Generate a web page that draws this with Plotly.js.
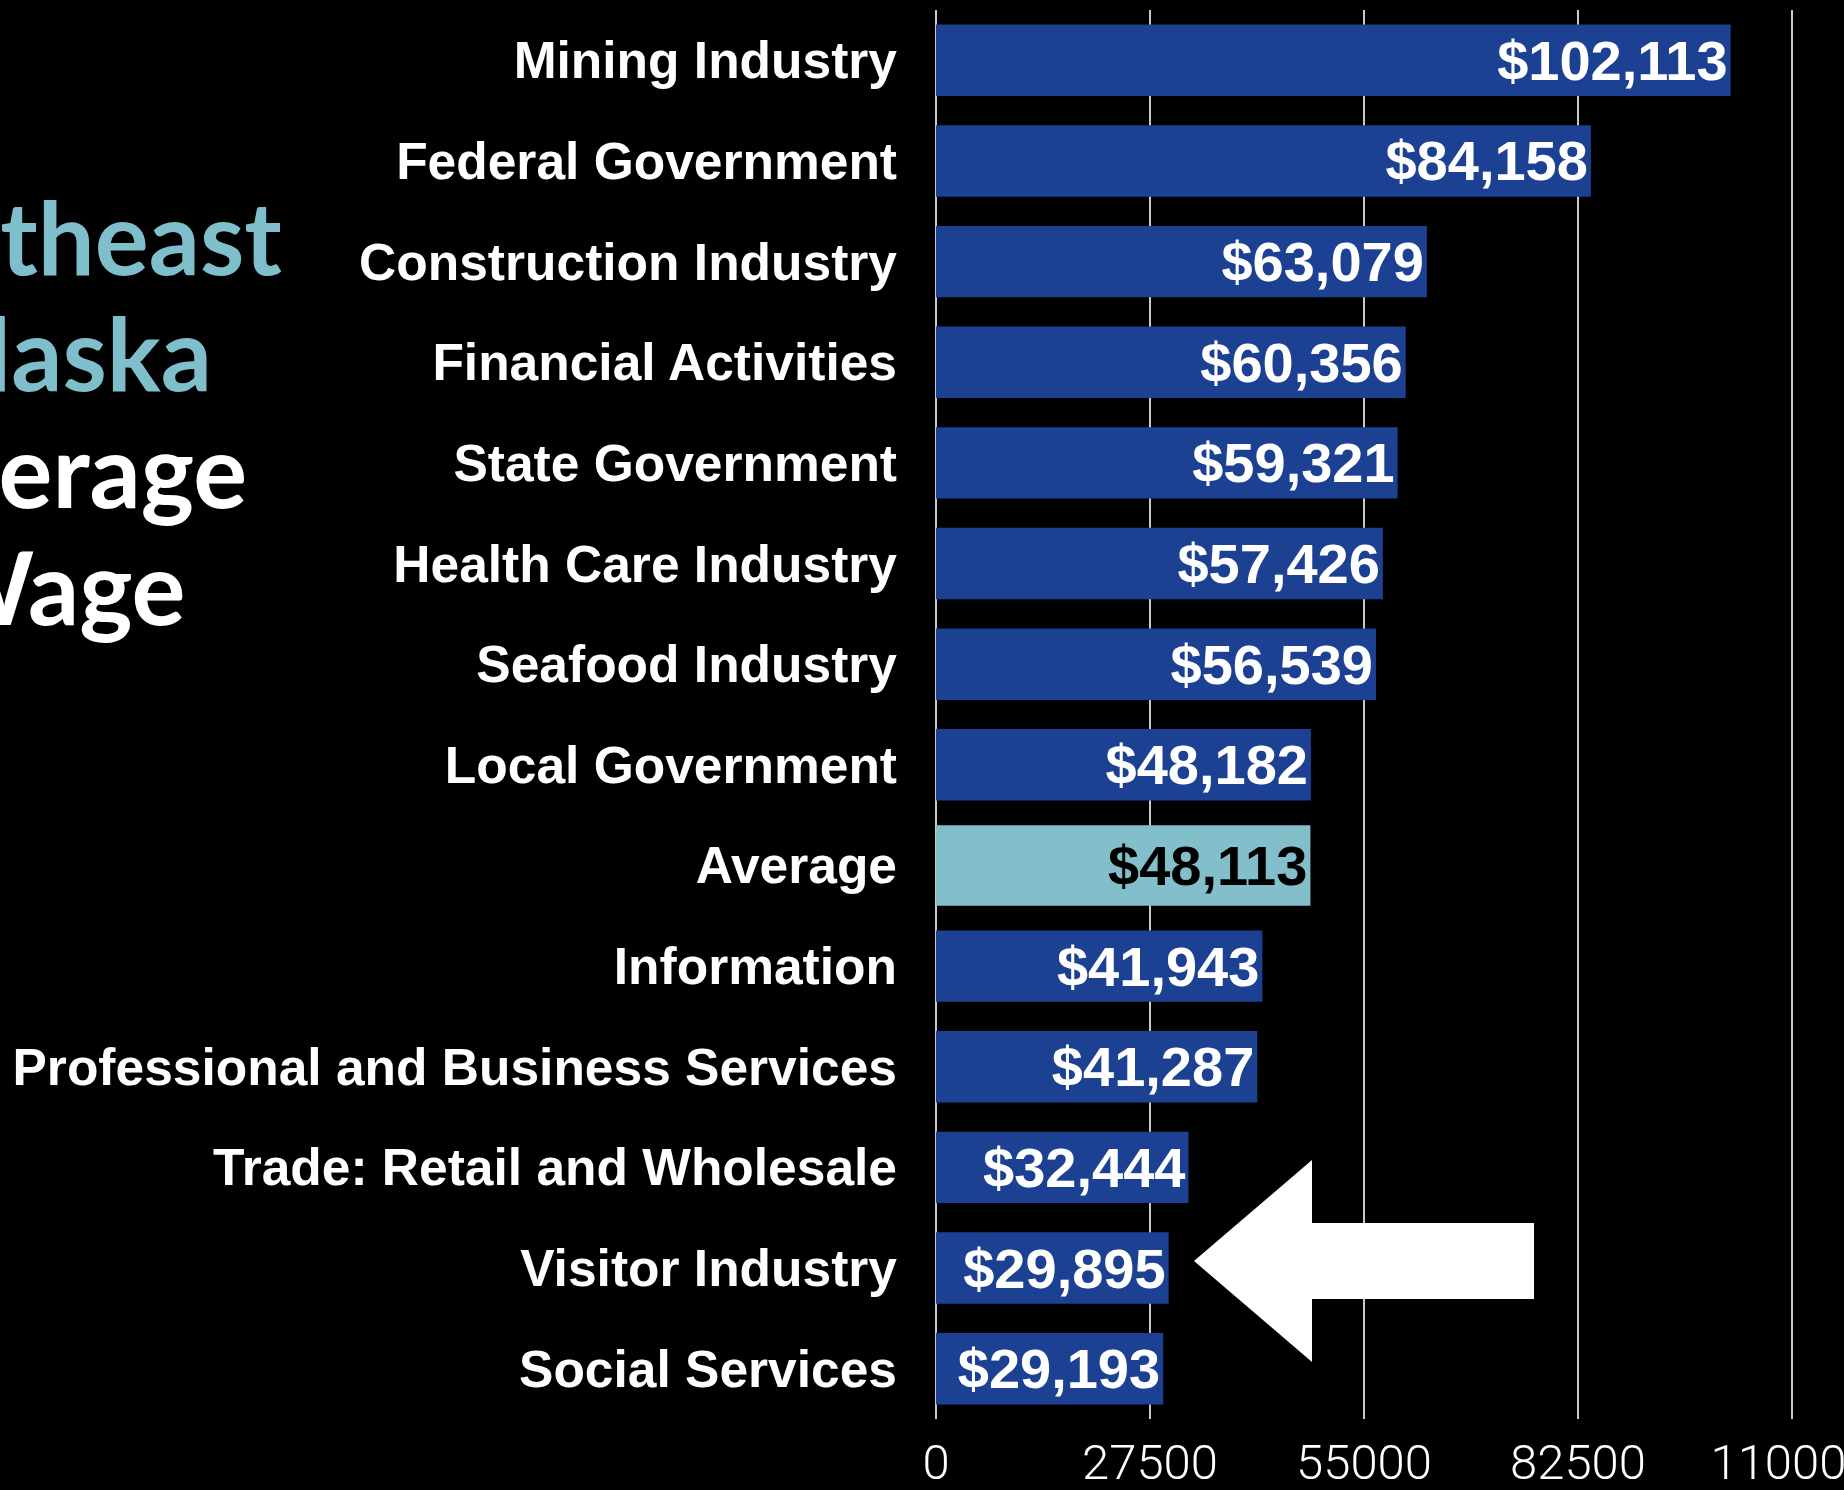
<!DOCTYPE html>
<html>
<head>
<meta charset="utf-8">
<script src="https://cdn.plot.ly/plotly-3.0.1.min.js"></script>
<style>html,body{margin:0;padding:0;background:#000;}#chart{width:1844px;height:1490px;}</style>
</head>
<body>
<div id="chart"></div>
<script>
// ---- data ----
const categories = [
  "Mining Industry", "Federal Government", "Construction Industry", "Financial Activities",
  "State Government", "Health Care Industry", "Seafood Industry", "Local Government",
  "Average", "Information", "Professional and Business Services",
  "Trade: Retail and Wholesale", "Visitor Industry", "Social Services"
];
const wages = [102113, 84158, 63079, 60356, 59321, 57426, 56539, 48182, 48113, 41943, 41287, 32444, 29895, 29193];
const highlight = "Average";
const titleLines = ["Southeast", "Alaska", "Average", "Wage"];
const xTicks = [0, 27500, 55000, 82500, 110000];

// ---- page geometry ----
const W = 1844, H = 1490;
const M = {l: 936, r: 0, t: 10, b: 71};
const plotW = W - M.l - M.r, plotH = H - M.t - M.b;
const px2x = p => (p - M.l) / plotW;
const px2y = p => 1 - (p - M.t) / plotH;

const darkBlue = "#1c4192", lightBlue = "#82bfca", teal = "#7fbfcb";

const trace = {
  type: "bar",
  orientation: "h",
  y: categories,
  x: wages,
  width: categories.map(c => c === highlight ? 0.8 : 0.71),
  marker: {color: categories.map(c => c === highlight ? lightBlue : darkBlue), line: {width: 0}},
  texttemplate: "$%{x:,}",
  textposition: "inside",
  insidetextanchor: "end",
  constraintext: "none",
  textangle: 0,
  textfont: {family: "Liberation Sans, Arial, sans-serif", size: 56, weight: 700,
             color: categories.map(c => c === highlight ? "#000" : "#fff")},
  hoverinfo: "skip"
};

const titleColors = [teal, teal, "#fff", "#fff"];
const titleRight = [284, 214, 249, 188];
const titleMid = [236, 352, 469, 586];
const annotations = titleLines.map((t, i) => ({
  text: t, xref: "paper", yref: "paper",
  x: px2x(titleRight[i]), y: px2y(titleMid[i]),
  xanchor: "right", yanchor: "middle", showarrow: false,
  font: {family: "Lato, sans-serif", size: 101, weight: 700, color: titleColors[i]}
}));

// arrow pointing at the visitor industry bar
const pts = [[1194,1261],[1312,1160],[1312,1223],[1534,1223],[1534,1299],[1312,1299],[1312,1362]];
const path = "M" + pts.map(p => px2x(p[0]).toFixed(5) + "," + px2y(p[1]).toFixed(5)).join(" L") + " Z";

const layout = {
  width: W, height: H,
  margin: M,
  paper_bgcolor: "#000", plot_bgcolor: "#000",
  showlegend: false,
  xaxis: {
    range: [0, 110000 * plotW / 856],
    tickvals: xTicks, tickformat: "d",
    showgrid: true, gridcolor: "#c8c8c8", gridwidth: 2,
    zeroline: true, zerolinecolor: "#c8c8c8", zerolinewidth: 2,
    showline: false, ticks: "",
    ticklabeloverflow: "allow",
    ticklabelstandoff: 10,
    tickfont: {family: "Roboto, sans-serif", size: 49, weight: 300, color: "#fff"},
    fixedrange: true
  },
  yaxis: {
    type: "category",
    range: [categories.length - 0.5, -0.5],
    showgrid: false, zeroline: false, showline: false, ticks: "",
    ticklabelstandoff: 38,
    tickfont: {family: "Liberation Sans, Arial, sans-serif", size: 51.5, weight: 700, color: "#fff"},
    fixedrange: true
  },
  annotations: annotations,
  shapes: [{type: "path", xref: "paper", yref: "paper", path: path,
            fillcolor: "#fff", line: {width: 0}, layer: "above"}]
};

Plotly.newPlot("chart", [trace], layout, {displayModeBar: false, staticPlot: true});
</script>
</body>
</html>
